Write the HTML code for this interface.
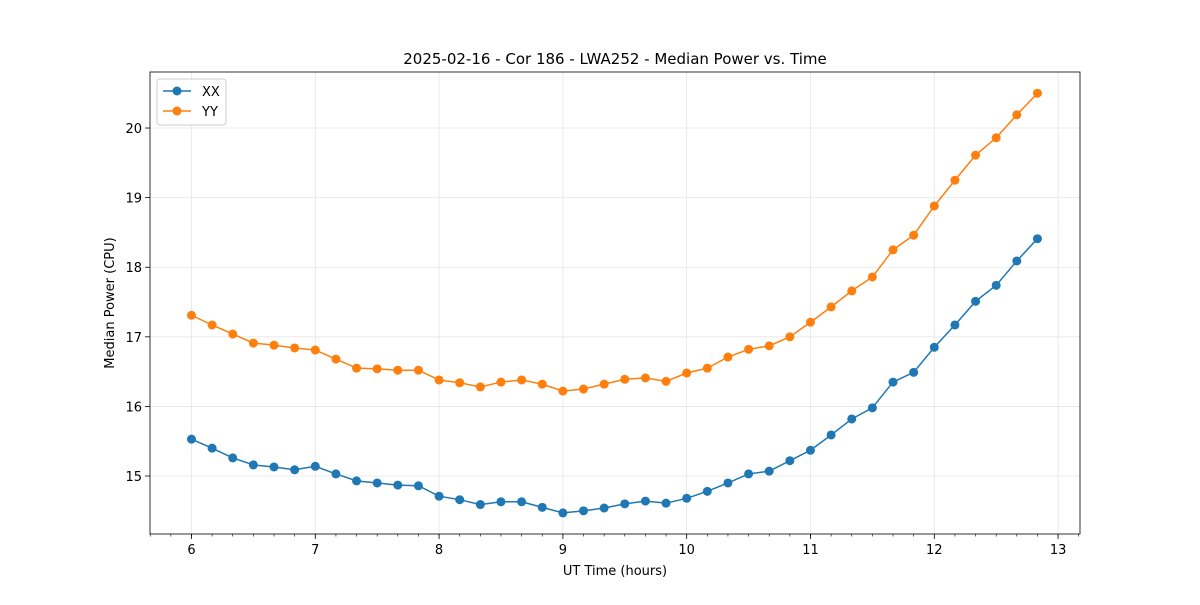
<!DOCTYPE html>
<html><head><meta charset="utf-8"><style>
body{margin:0;background:#fff;font-family:"Liberation Sans","DejaVu Sans",sans-serif}
svg text{font-family:"DejaVu Sans","Liberation Sans",sans-serif}
</style></head><body>
<svg id="chart" width="1200" height="600" xmlns="http://www.w3.org/2000/svg">
<rect width="1200" height="600" fill="#fff"/>
<text x="615" y="64" text-anchor="middle" font-size="15" fill="#000">2025-02-16 - Cor 186 - LWA252 - Median Power vs. Time</text>
<g id="grid"></g><g id="axes"></g><g id="series"></g>
<text x="615" y="575" text-anchor="middle" font-size="13">UT Time (hours)</text>
<text transform="translate(114,303) rotate(-90)" text-anchor="middle" font-size="13">Median Power (CPU)</text>
<g>
<rect x="157" y="79" width="69" height="46" rx="3" fill="#fff" stroke="#ccc"/>
<g><line x1="163" y1="91" x2="191" y2="91" stroke="#1f77b4" stroke-width="1.5"/><circle cx="177" cy="91" r="4.5" fill="#1f77b4"/><text x="202" y="96" font-size="13">XX</text></g>
<g><line x1="163" y1="111" x2="191" y2="111" stroke="#ff7f0e" stroke-width="1.5"/><circle cx="177" cy="111" r="4.5" fill="#ff7f0e"/><text x="202" y="116" font-size="13">YY</text></g>
</g>
</svg>
<script>
const xxValues=[15.53,15.40,15.26,15.16,15.13,15.09,15.14,15.03,14.93,14.90,14.87,14.86,14.71,14.66,14.59,14.63,14.63,14.55,14.47,14.50,14.54,14.60,14.64,14.61,14.68,14.78,14.90,15.03,15.07,15.22,15.37,15.59,15.82,15.98,16.35,16.49,16.85,17.17,17.51,17.74,18.09,18.41];
const yyValues=[17.31,17.17,17.04,16.91,16.88,16.84,16.81,16.68,16.55,16.54,16.52,16.52,16.38,16.34,16.28,16.35,16.38,16.32,16.22,16.25,16.32,16.39,16.41,16.36,16.48,16.55,16.71,16.82,16.87,17.00,17.21,17.43,17.66,17.86,18.25,18.46,18.88,19.25,19.61,19.86,20.19,20.50];
const startHour=6, stepHour=1/6;
const xTicks=[6,7,8,9,10,11,12,13];
const yTicks=[15,16,17,18,19,20];
const L=150,R=1080,T=72,B=534;
const xMin=5.665,xMax=13.177,yMin=14.167,yMax=20.805;
const sx=v=>L+(v-xMin)/(xMax-xMin)*(R-L);
const sy=v=>B-(v-yMin)/(yMax-yMin)*(B-T);
const NS="http://www.w3.org/2000/svg";
function mk(p,t,a){const e=document.createElementNS(NS,t);for(const k in a)e.setAttribute(k,a[k]);p.appendChild(e);return e;}
const grid=document.getElementById('grid'),axes=document.getElementById('axes'),ser=document.getElementById('series');
xTicks.forEach(v=>{const x=sx(v);
const g=mk(grid,'line',{x1:x,x2:x,y1:T,y2:B,stroke:'#e6e6e6','stroke-width':0.8});


mk(axes,'line',{x1:x,x2:x,y1:B,y2:B+5,stroke:'#000','stroke-width':0.8});
const t=mk(axes,'text',{x:x,y:B+20,'text-anchor':'middle','font-size':13});t.textContent=v;

});
for(let k=0;k<46;k++){const v=5+4/6+k/6;if(v>xMax)break;const x=sx(v);mk(axes,'line',{x1:x,x2:x,y1:B,y2:B+2.5,stroke:'#000','stroke-width':0.6});}
yTicks.forEach(v=>{const y=sy(v);
const g=mk(grid,'line',{x1:L,x2:R,y1:y,y2:y,stroke:'#e6e6e6','stroke-width':0.8});


mk(axes,'line',{x1:L-5,x2:L,y1:y,y2:y,stroke:'#000','stroke-width':0.8});
const t=mk(axes,'text',{x:L-8,y:y+5,'text-anchor':'end','font-size':13});t.textContent=v;

});
const frame=mk(axes,'rect',{x:L,y:T,width:R-L,height:B-T,fill:'none',stroke:'#000','stroke-width':0.8});


function draw(vals,col,name){
const pts=vals.map((v,i)=>[sx(startHour+i*stepHour),sy(v)]);
const pl=mk(ser,'polyline',{points:pts.map(p=>p.join(',')).join(' '),fill:'none',stroke:col,'stroke-width':1.5});


pts.forEach(p=>{const c=mk(ser,'circle',{cx:p[0],cy:p[1],r:4.5,fill:col});

});}
draw(xxValues,'#1f77b4','xx');
draw(yyValues,'#ff7f0e','yy');
</script>
</body></html>
